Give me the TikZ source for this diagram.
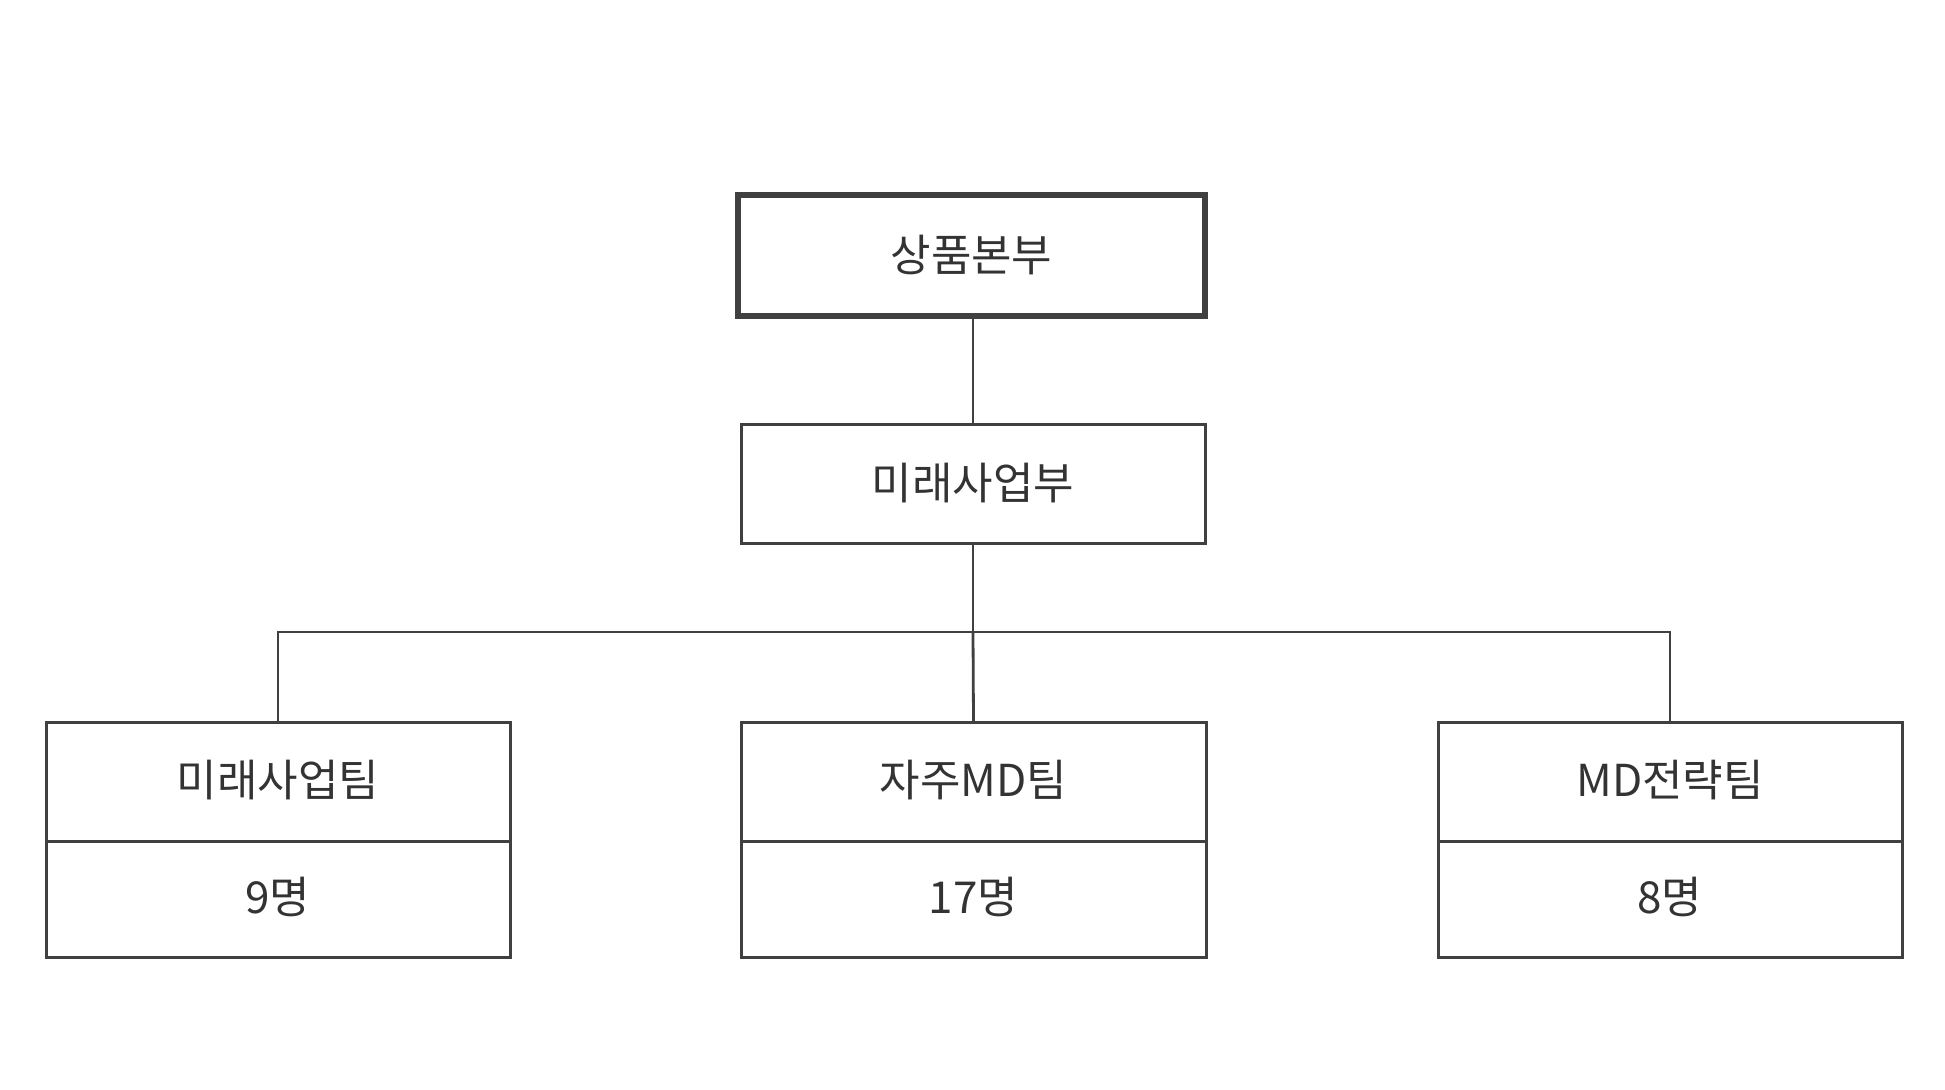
\documentclass[tikz,border=0pt]{standalone}
\usepackage{fontspec}
\setmainfont{Noto Sans CJK KR}
\begin{document}
\begin{tikzpicture}[x=0.5pt,y=-0.5pt,
  bx/.style={draw=black!75,line width=1.5pt},
  ln/.style={draw=black!75,line width=1.4pt},
  lb/.style={font=\fontsize{22}{26}\selectfont,text=black!80}]
\useasboundingbox (0,0) rectangle (1945,1089);
\draw[bx,line width=2.6pt] (738,195) rectangle (1205,316);
\node[lb] (a) at (971.5,255) {상품본부};
\draw[bx] (741,424) rectangle (1205,543);
\node[lb] (b) at (973,483) {미래사업부};
\coordinate (at) at (973,316);
\coordinate (bt) at (973,424);
\coordinate (bb) at (973,543);
\coordinate (h) at (973,632);
\draw[ln] (at) -- (bt);
\draw[ln] (bb) -- (h);
\foreach \l/\r/\t/\n [count=\i] in {46/510/미래사업팀/9명,741/1206/자주MD팀/17명,1438/1902/MD전략팀/8명}{
  \draw[bx] (\l,722) rectangle (\r,957);
  \draw[bx] (\l,841) -- (\r,841);
  \node[lb] (t\i) at ({(\l+\r)/2},780) {\t};
  \node[lb] (n\i) at ({(\l+\r)/2},897) {\n};
  \coordinate (c\i) at ({(\l+\r)/2},722);
}
\coordinate (hl) at (278,632);
\coordinate (hr) at (1670,632);
\draw[ln] (c1) |- (hr) -- (c3);
\draw[ln] (h) -- (c2);
\end{tikzpicture}
\end{document}
